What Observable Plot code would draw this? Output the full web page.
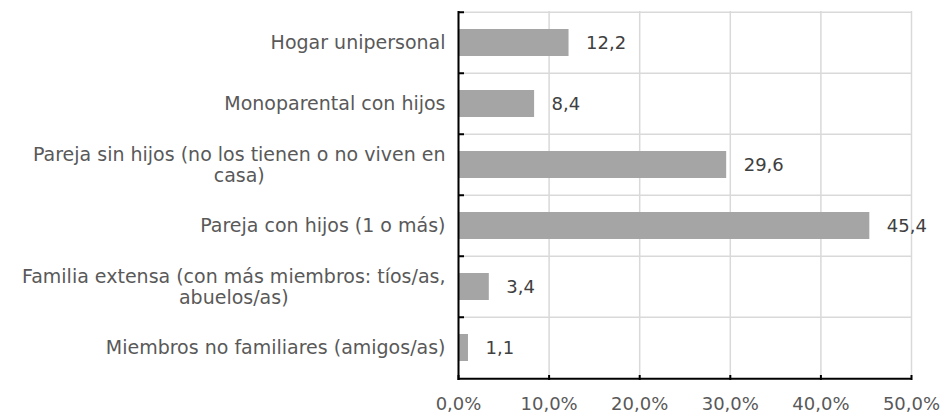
<!DOCTYPE html>
<html><head><meta charset="utf-8">
<script src="https://cdn.jsdelivr.net/npm/d3@7"></script>
<script src="https://cdn.jsdelivr.net/npm/@observablehq/plot@0.6"></script>
<style>html,body{margin:0;padding:0;background:#fff}</style>
</head><body><div id="chart"></div>
<script>
const categories = [
  "Hogar unipersonal",
  "Monoparental con hijos",
  "Pareja sin hijos (no los tienen o no viven en casa)",
  "Pareja con hijos (1 o más)",
  "Familia extensa (con más miembros: tíos/as, abuelos/as)",
  "Miembros no familiares (amigos/as)"
];
const labelLines = [
  ["Hogar unipersonal"],
  ["Monoparental con hijos"],
  ["Pareja sin hijos (no los tienen o no viven en", "casa)"],
  ["Pareja con hijos (1 o más)"],
  ["Familia extensa (con más miembros: tíos/as,", "abuelos/as)"],
  ["Miembros no familiares (amigos/as)"]
];
const values = [12.2, 8.4, 29.6, 45.4, 3.4, 1.1];
const xTicks = [0, 10, 20, 30, 40, 50];

const W = 950, H = 414;
const mL = 458, mR = 39, mT = 11, mB = 34;
const plotW = W - mL - mR, plotH = H - mT - mB;
const step = plotH / categories.length;
const fontFamily = "'DejaVu Sans', Verdana, sans-serif";
const catSize = 19, valSize = 18, tickSize = 18;
const lineH = 21;

const loc = d3.formatLocale({decimal: ",", thousands: ".", grouping: [3], currency: ["", "€"]});
const f1 = loc.format(".1f");

const data = categories.map((c, i) => ({cat: c, value: values[i]}));

const ctx = document.createElement("canvas").getContext("2d");
ctx.font = `${catSize}px ${fontFamily}`;

const labelMarks = [];
categories.forEach((c, i) => {
  const lines = labelLines[i];
  const w = Math.max(...lines.map(l => ctx.measureText(l).width));
  lines.forEach((l, j) => {
    labelMarks.push(Plot.text([{cat: c, line: l}], {
      y: "cat", text: "line", frameAnchor: "left", textAnchor: "middle",
      dx: -13 - w / 2, dy: (j - (lines.length - 1) / 2) * lineH,
      fill: "#595959", fontSize: catSize
    }));
  });
});

const chart = Plot.plot({
  width: W, height: H,
  marginLeft: mL, marginRight: mR, marginTop: mT, marginBottom: mB,
  style: {fontFamily, background: "#fff", overflow: "visible"},
  x: {domain: [0, 50], axis: null, label: null},
  y: {domain: categories, paddingInner: 0.55, paddingOuter: 0.275, axis: null, label: null},
  marks: [
    Plot.gridX(xTicks, {stroke: "#d9d9d9", strokeOpacity: 1, strokeWidth: 1.5}),
    Plot.tickY(categories, {y: d => d, dy: -step / 2, stroke: "#d9d9d9", strokeWidth: 1.5}),
    Plot.barX(data, {x: "value", y: "cat", fill: "#a5a5a5"}),
    Plot.text(data, {x: "value", y: "cat", text: d => f1(d.value), textAnchor: "start", dx: 17, fill: "#404040", fontSize: valSize}),
    Plot.ruleX([0], {stroke: "#000", strokeWidth: 2}),
    Plot.tickY([categories[categories.length - 1]], {y: d => d, dy: step / 2, stroke: "#000", strokeWidth: 2}),
    Plot.tickY(categories, {y: d => d, dy: -step / 2, stroke: "#000", strokeWidth: 2, insetRight: plotW - 6}),
    Plot.tickX(xTicks, {x: d => d, stroke: "#000", strokeWidth: 2, insetTop: plotH - 5}),
    Plot.axisX(xTicks, {label: null, tickSize: 0, tickPadding: 17, tickFormat: d => f1(d) + "%", fill: "#595959", fontSize: tickSize}),
    ...labelMarks
  ]
});
document.getElementById("chart").append(chart);
</script>
</body></html>
